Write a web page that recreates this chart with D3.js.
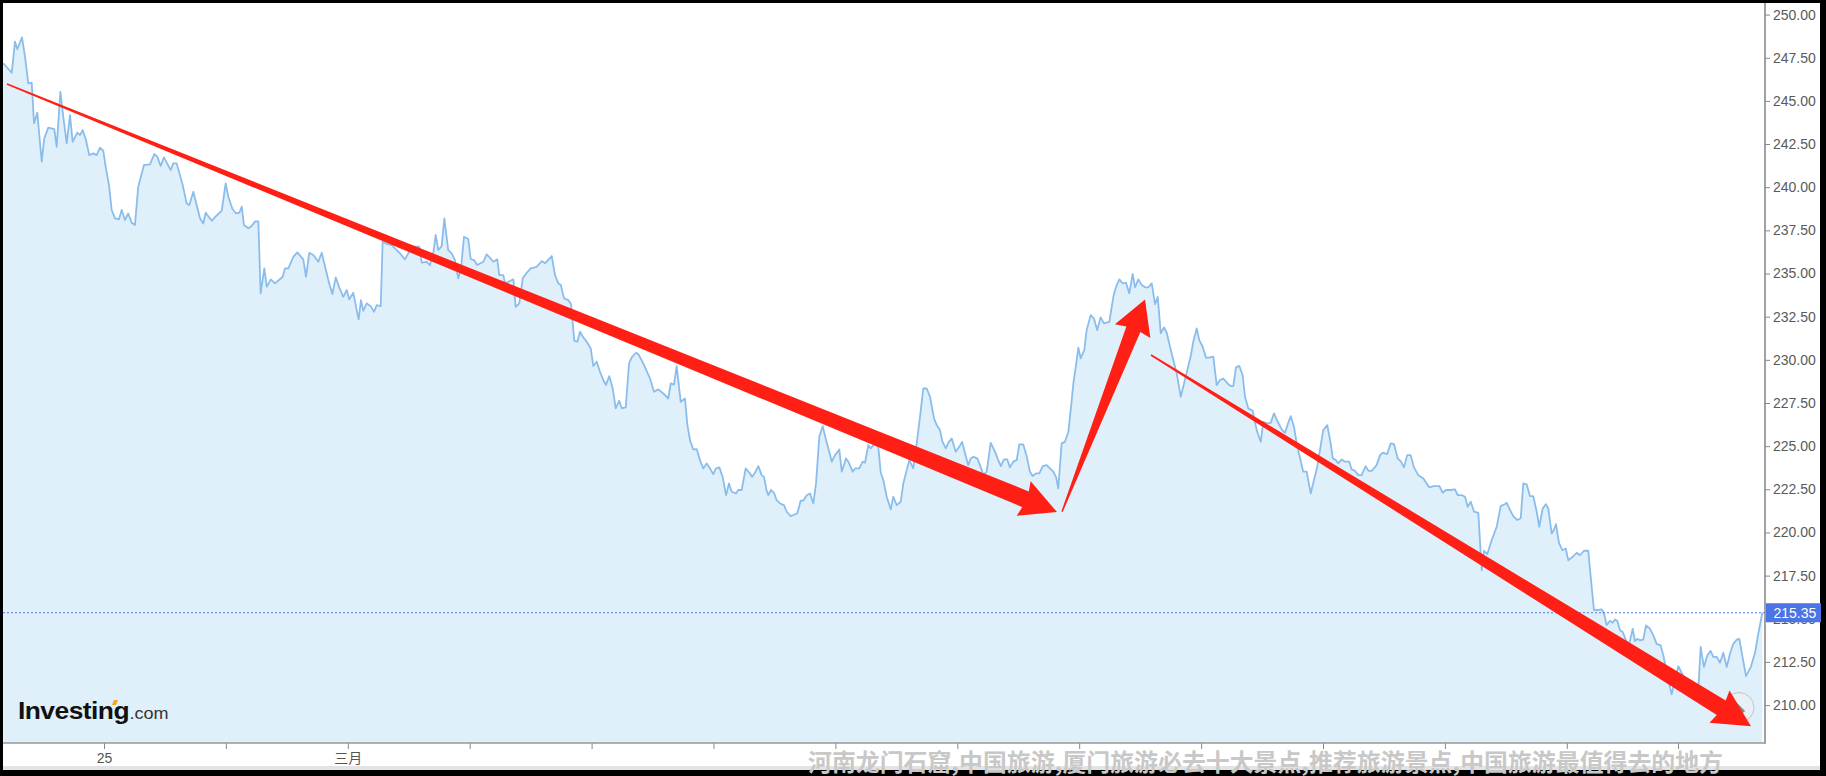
<!DOCTYPE html>
<html><head><meta charset="utf-8">
<script src="https://cdn.jsdelivr.net/npm/d3@7/dist/d3.min.js"></script>
<style>html,body{margin:0;padding:0;background:#000;overflow:hidden}svg{display:block}</style>
</head><body>
<svg id="chart" width="1826" height="776"></svg>
<script>
// ---- data (time in axis-tick units, price in USD) ----
const times = [
-0.826,-0.757,-0.730,-0.711,-0.673,-0.648,-0.621,-0.593,-0.574,-0.547,-0.511,-0.490,-0.457,-0.408,-0.388,-0.358,-0.334,-0.306,-0.279,-0.257,
-0.219,-0.197,-0.175,-0.148,-0.121,-0.088,-0.060,-0.033,-0.006,0.016,0.041,0.063,0.090,0.123,0.145,0.172,0.199,0.227,0.254,0.281,
0.328,0.377,0.413,0.437,0.465,0.492,0.547,0.568,0.596,0.646,0.678,0.700,0.733,0.760,0.788,0.815,0.834,0.884,0.929,0.966,
0.998,1.020,1.052,1.083,1.110,1.130,1.148,1.184,1.212,1.239,1.266,1.285,1.315,1.335,1.368,1.403,1.466,1.485,1.512,1.553,
1.586,1.635,1.657,1.684,1.717,1.758,1.786,1.840,1.873,1.901,1.928,1.963,1.991,2.012,2.045,2.073,2.089,2.108,2.127,2.155,
2.188,2.215,2.237,2.270,2.286,2.319,2.360,2.428,2.469,2.496,2.537,2.587,2.606,2.647,2.674,2.701,2.721,2.742,2.770,2.792,
2.824,2.852,2.879,2.906,2.929,2.953,2.988,3.008,3.035,3.062,3.112,3.139,3.167,3.194,3.226,3.243,3.276,3.290,3.358,3.377,3.407,
3.435,3.468,3.500,3.550,3.591,3.618,3.673,3.700,3.727,3.747,3.774,3.809,3.831,3.858,3.883,3.905,3.932,3.960,3.993,4.014,
4.042,4.069,4.096,4.118,4.145,4.173,4.198,4.227,4.247,4.280,4.307,4.329,4.364,4.383,4.424,4.479,4.512,4.547,4.588,4.629,
4.649,4.676,4.698,4.731,4.766,4.785,4.807,4.834,4.862,4.889,4.916,4.944,4.971,4.998,5.021,5.048,5.075,5.103,5.127,5.149,
5.185,5.203,5.231,5.264,5.294,5.318,5.340,5.368,5.395,5.414,5.436,5.450,5.472,5.499,5.518,5.546,5.578,5.601,5.633,5.655,
5.687,5.715,5.737,5.765,5.792,5.819,5.841,5.868,5.896,5.923,5.950,5.970,5.997,6.032,6.052,6.087,6.106,6.142,6.161,6.196,
6.224,6.243,6.270,6.290,6.325,6.352,6.372,6.393,6.421,6.454,6.475,6.503,6.536,6.557,6.585,6.606,6.639,6.667,6.694,6.721,
6.749,6.776,6.809,6.831,6.858,6.877,6.905,6.926,6.954,6.987,7.016,
7.039,7.071,7.090,7.110,7.131,7.164,7.186,7.213,7.241,7.274,7.309,7.336,7.358,7.383,7.410,7.432,7.459,7.487,7.509,7.541,
7.569,7.596,7.618,7.646,7.673,7.701,7.733,7.760,7.787,7.810,7.828,7.856,7.883,7.911,7.933,7.952,7.974,7.993,8.012,8.042,
8.061,8.094,8.121,8.148,8.176,8.203,8.247,8.280,8.302,8.329,8.357,8.384,8.411,8.439,8.458,8.485,8.513,8.540,8.567,8.595,
8.622,8.644,8.669,8.696,8.718,8.745,8.772,8.800,8.833,8.860,8.887,8.915,8.936,8.964,8.985,9.013,9.040,9.073,9.100,9.128,
9.155,9.182,9.223,9.243,9.264,9.286,9.313,9.341,9.360,9.387,9.423,9.456,9.489,9.510,9.538,9.571,9.598,9.625,9.661,9.688,
9.715,9.735,9.762,9.784,9.806,9.838,9.866,9.899,9.926,9.953,9.975,10.002,10.035,10.063,
10.080,10.107,10.125,10.153,10.180,10.216,10.235,10.262,10.290,10.317,10.350,10.372,10.399,10.440,10.468,10.490,10.527,10.555,10.582,10.613,
10.640,10.664,10.691,10.719,10.746,10.782,10.823,10.872,10.905,10.954,10.982,11.009,11.042,11.083,11.105,11.138,11.165,11.187,11.212,11.239,
11.274,11.302,11.321,11.348,11.384,11.425,11.458,11.493,11.507,11.528,11.561,11.594,11.622,11.643,11.671,11.698,11.725,11.753,11.774,11.802,
11.829,11.848,11.876,11.895,11.911,11.936,11.963,11.991,12.012,12.048,12.081,12.108,12.141,12.176,12.198,12.223,12.258,12.286,12.305,12.327,
12.354,12.376,12.395,12.414,12.436,12.459,12.486,12.510,12.541,12.559,12.578,12.600,12.627,12.650,12.683,12.710,12.737,12.770,12.792,12.822,
12.860,12.888,12.915,12.961,13.011,13.052,13.079,13.098,13.125,13.153,13.180,13.202,13.230,13.257,13.284,13.312,13.339,13.366,13.394,13.415,
13.470,13.509,13.544,13.571,13.604
];
const prices = [
247.18,246.63,248.43,247.99,248.68,247.56,246.02,246.06,243.70,244.31,241.48,242.83,243.45,243.37,242.34,245.53,244.08,242.54,244.18,242.63,
243.16,243.02,243.31,242.73,241.86,241.96,241.86,242.29,242.11,241.09,240.12,238.68,238.19,238.14,238.68,238.10,238.48,237.94,237.81,240.03,
241.28,241.32,241.92,241.77,241.23,241.73,240.99,241.38,241.38,240.12,239.06,238.97,239.74,238.97,238.19,237.90,238.52,238.06,238.39,238.64,
240.22,239.45,238.77,238.48,238.52,238.87,237.81,237.62,237.75,238.02,238.02,233.85,235.30,234.23,234.66,234.43,234.81,235.30,235.30,235.97,
236.22,235.82,234.81,236.20,236.07,235.68,236.20,234.62,233.81,234.78,234.23,233.65,234.04,233.50,233.89,232.88,232.34,233.46,232.84,233.27,
233.11,232.78,233.17,233.11,236.84,236.71,236.65,236.17,235.82,236.17,236.55,236.55,235.63,235.68,235.49,236.17,237.23,236.36,236.59,238.19,
236.36,236.17,235.78,234.72,235.30,237.13,237.00,235.84,235.78,235.49,235.68,236.11,235.91,235.68,235.82,234.91,234.91,234.43,234.66,233.07,233.27,
234.72,235.04,235.30,235.39,235.72,235.59,236.01,234.91,234.43,234.33,233.56,233.46,233.23,231.11,231.05,231.63,231.30,231.05,230.66,229.64,
229.89,229.31,228.83,228.54,229.06,228.34,227.19,227.63,227.19,227.24,229.79,230.14,230.41,230.33,229.79,228.92,228.15,228.29,228.05,227.76,
228.63,228.57,229.64,227.57,227.76,226.28,225.35,224.81,224.83,224.19,223.71,224.00,223.71,223.38,223.71,223.77,223.22,222.16,222.84,222.36,
222.26,222.46,222.46,223.71,223.46,223.22,223.46,223.84,223.32,223.22,222.42,222.16,222.46,222.26,221.87,221.68,221.58,221.20,220.95,221.01,
221.10,221.84,221.84,222.16,222.26,221.68,222.84,225.54,226.16,225.35,224.68,224.10,224.48,224.81,223.52,224.29,224.10,223.52,223.71,223.71,
224.10,224.04,225.06,224.87,225.16,224.96,223.46,223.04,222.07,221.34,222.07,221.58,221.78,222.84,223.61,224.19,223.71,225.16,226.70,228.34,
228.34,227.86,226.61,226.22,225.93,225.29,224.87,225.19,225.45,224.68,224.96,
225.25,224.38,223.90,224.29,224.38,224.29,223.90,223.32,223.52,225.19,224.68,224.19,223.84,224.23,224.23,223.77,224.10,224.19,225.10,225.10,
224.42,223.52,223.27,223.42,223.42,223.84,223.90,223.71,223.52,223.22,222.55,225.16,225.25,225.83,227.28,228.63,229.70,230.70,230.08,230.56,
231.72,232.59,232.40,231.72,232.46,232.11,232.20,233.65,234.23,234.66,234.43,234.47,233.85,234.97,234.20,234.66,234.33,234.20,234.20,234.43,
233.23,233.65,231.53,231.88,231.57,230.76,229.99,229.21,227.86,228.63,229.41,230.22,231.05,231.82,231.14,230.76,230.12,230.14,230.18,228.54,
228.83,228.92,228.59,228.48,228.48,229.56,229.65,229.11,227.86,227.19,227.05,225.93,225.25,226.41,226.32,226.35,226.90,226.47,225.97,225.77,
226.35,226.74,226.12,225.16,224.48,223.52,223.52,222.26,223.04,223.81,224.77,225.93,226.22,225.16,
224.29,224.19,224.00,224.23,224.10,224.10,223.65,223.57,223.32,223.32,223.84,223.57,223.57,223.90,224.48,224.62,224.54,225.16,225.12,224.29,
224.10,223.77,224.48,224.48,223.77,223.32,223.13,222.61,222.69,222.69,222.30,222.46,222.46,222.50,222.16,222.16,222.07,221.49,221.78,221.20,
221.14,217.82,218.94,218.75,219.56,220.33,221.53,221.64,221.72,221.39,220.95,220.72,220.82,222.84,222.78,222.10,222.10,221.20,220.33,221.39,
221.64,221.39,219.94,220.16,220.48,219.40,218.97,219.07,218.39,218.59,218.82,218.68,218.94,218.94,217.28,215.51,215.51,215.55,215.32,214.64,
214.88,214.77,214.96,214.88,214.33,214.23,213.75,213.50,214.42,213.70,213.84,213.75,213.79,214.62,214.42,214.04,213.55,213.46,212.88,211.80,
210.62,211.50,212.25,211.60,211.00,211.20,210.90,213.37,212.21,212.88,213.14,212.79,212.79,212.45,213.03,212.21,212.99,213.55,213.79,213.84,
211.68,212.20,213.03,214.15,215.35
];
const xTickValues = [0,1,2,3,4,5,6,7,8,9,10,11,12,12.912];
const xTickLabels = ["25","","三月","","","","","","","","","","",""];
const yTickValues = [210,212.5,215,217.5,220,222.5,225,227.5,230,232.5,235,237.5,240,242.5,245,247.5,250];
const lastPrice = 215.35;
// red trend-arrow annotations, anchored in data space (time, price)
const arrowFromT = [-0.796, 7.859, 8.589];
const arrowFromV = [245.98, 221.20, 230.28];
const arrowToT   = [7.818, 8.540, 13.511];
const arrowToV   = [221.18, 233.50, 208.78];
const watermark = "河南龙门石窟,中国旅游,厦门旅游必去十大景点,推荐旅游景点,中国旅游最值得去的地方";

// ---- layout ----
const W = 1826, H = 776;
const plot = {left: 3, right: 1765, top: 3, bottom: 743};
const FONT = "'Liberation Sans', Arial, 'Noto Sans CJK SC', sans-serif";

const x = d3.scaleLinear().domain([0, 12]).range([104, 1566.8]);
const y = d3.scaleLinear().domain([210, 250]).range([705.1, 14.56]);

const svg = d3.select("#chart");
svg.append("rect").attr("width", W).attr("height", H).attr("fill", "#000");
svg.append("rect").attr("x", 3).attr("y", 3).attr("width", 1817).attr("height", 767).attr("fill", "#fff");
svg.append("rect").attr("x", 3).attr("y", 766).attr("width", 1817).attr("height", 4).attr("fill", "#e3e3e3");

svg.append("defs").append("clipPath").attr("id", "clip")
  .append("rect").attr("x", plot.left).attr("y", plot.top)
  .attr("width", plot.right - plot.left).attr("height", plot.bottom - plot.top);

const data = times.map((t, i) => ({t, v: prices[i]}));
const g = svg.append("g").attr("clip-path", "url(#clip)");

g.append("path").datum(data)
  .attr("fill", "#e0f0fa")
  .attr("d", d3.area().x(d => x(d.t)).y0(plot.bottom).y1(d => y(d.v)));
g.append("path").datum(data)
  .attr("fill", "none").attr("stroke", "#8bbdec").attr("stroke-width", 1.8)
  .attr("stroke-linejoin", "round")
  .attr("d", d3.line().x(d => x(d.t)).y(d => y(d.v)));

// last price dotted line
g.append("line")
  .attr("x1", plot.left).attr("x2", plot.right)
  .attr("y1", y(lastPrice)).attr("y2", y(lastPrice))
  .attr("stroke", "#4f76e3").attr("stroke-width", 1).attr("stroke-dasharray", "2,2");

// ---- y axis (right) ----
const yAxis = svg.append("g").attr("transform", `translate(${plot.right},0)`)
  .call(d3.axisRight(y).tickValues(yTickValues).tickSize(5).tickPadding(3).tickFormat(d3.format(".2f")));
yAxis.select(".domain").remove();
yAxis.selectAll(".tick line").attr("stroke", "#888");
yAxis.selectAll(".tick text").attr("fill", "#5a5a5a").style("font-family", FONT).style("font-size", "14px");
svg.append("line").attr("x1", plot.right).attr("x2", plot.right).attr("y1", plot.top).attr("y2", plot.bottom + 1)
  .attr("stroke", "#8a8a8a").attr("stroke-width", 1.6);

// ---- x axis (bottom) ----
const xAxis = svg.append("g").attr("transform", `translate(0,${plot.bottom})`)
  .call(d3.axisBottom(x).tickValues(xTickValues).tickSize(6).tickPadding(4)
    .tickFormat((d, i) => xTickLabels[i]));
xAxis.select(".domain").remove();
xAxis.selectAll(".tick line").attr("stroke", "#888");
xAxis.selectAll(".tick text").attr("fill", "#555").style("font-family", FONT).style("font-size", "14px");
svg.append("line").attr("x1", plot.left).attr("x2", plot.right).attr("y1", plot.bottom).attr("y2", plot.bottom)
  .attr("stroke", "#999").attr("stroke-width", 1.6);

// ---- current price tag ----
const tag = svg.append("g").attr("transform", `translate(${plot.right + 1},${y(lastPrice)})`);
tag.append("rect").attr("x", 0).attr("y", -9.5).attr("width", 55).attr("height", 19).attr("fill", "#4b74e4");
tag.append("text").attr("x", 7.5).attr("y", 0).attr("dy", "0.35em")
  .attr("fill", "#fff").style("font-family", FONT).style("font-size", "14px").text(d3.format(".2f")(lastPrice));

// ---- Investing.com logo ----
const logo = svg.append("g");
logo.append("text").attr("x", 18).attr("y", 719).attr("textLength", 111).attr("lengthAdjust", "spacingAndGlyphs")
  .style("font-family", FONT).style("font-size", "24px").style("font-weight", "bold")
  .style("letter-spacing", "-0.5px").attr("fill", "#111").text("Investing");
logo.append("path").attr("d", "M112,705 L114,700 L118,700 L116,705 Z").attr("fill", "#f5a623");
logo.append("text").attr("x", 129.5).attr("y", 719).attr("textLength", 39).attr("lengthAdjust", "spacingAndGlyphs")
  .style("font-family", FONT).style("font-size", "16px").attr("fill", "#333").text(".com");

// ---- small circle button ----
svg.append("circle").attr("cx", 1739).attr("cy", 707.5).attr("r", 15)
  .attr("fill", "rgba(235,240,245,0.6)").attr("stroke", "#c4c4c4").attr("stroke-width", 1);
svg.append("line").attr("x1", 1734).attr("y1", 702).attr("x2", 1744).attr("y2", 712)
  .attr("stroke", "#888").attr("stroke-width", 3);

// ---- red arrows ----
function arrowPath(sx, sy, tx, ty, w0, w1, hl, hw) {
  const dx = tx - sx, dy = ty - sy, L = Math.hypot(dx, dy);
  const ux = dx / L, uy = dy / L, nx = -uy, ny = ux;
  const P = (a, p) => [sx + ux * a + nx * p, sy + uy * a + ny * p];
  const b = L - hl;
  const pts = [P(0, -w0 / 2), P(b + 2, -w1 / 2), P(b, -hw), P(L, 0), P(b, hw), P(b + 2, w1 / 2), P(0, w0 / 2)];
  return "M" + pts.map(p => p[0].toFixed(2) + "," + p[1].toFixed(2)).join("L") + "Z";
}
const arrowStyle = [
  {w0: 1.6, w1: 17, hl: 36, hw: 18.5},
  {w0: 1.4, w1: 15, hl: 34, hw: 19},
  {w0: 1.6, w1: 17, hl: 37, hw: 19}
];
svg.append("g").selectAll("path").data(arrowFromT).join("path")
  .attr("fill", "#ff1f14")
  .attr("d", (d, i) => arrowPath(x(arrowFromT[i]), y(arrowFromV[i]), x(arrowToT[i]), y(arrowToV[i]),
    arrowStyle[i].w0, arrowStyle[i].w1, arrowStyle[i].hl, arrowStyle[i].hw));

// ---- watermark ----
svg.append("text").attr("x", 808).attr("y", 771).attr("textLength", 915).attr("lengthAdjust", "spacingAndGlyphs")
  .style("font-family", "'Noto Sans CJK SC', sans-serif").style("font-size", "24px").style("font-weight", "bold")
  .attr("fill", "#c8c8c8").text(watermark);
</script>
</body></html>
